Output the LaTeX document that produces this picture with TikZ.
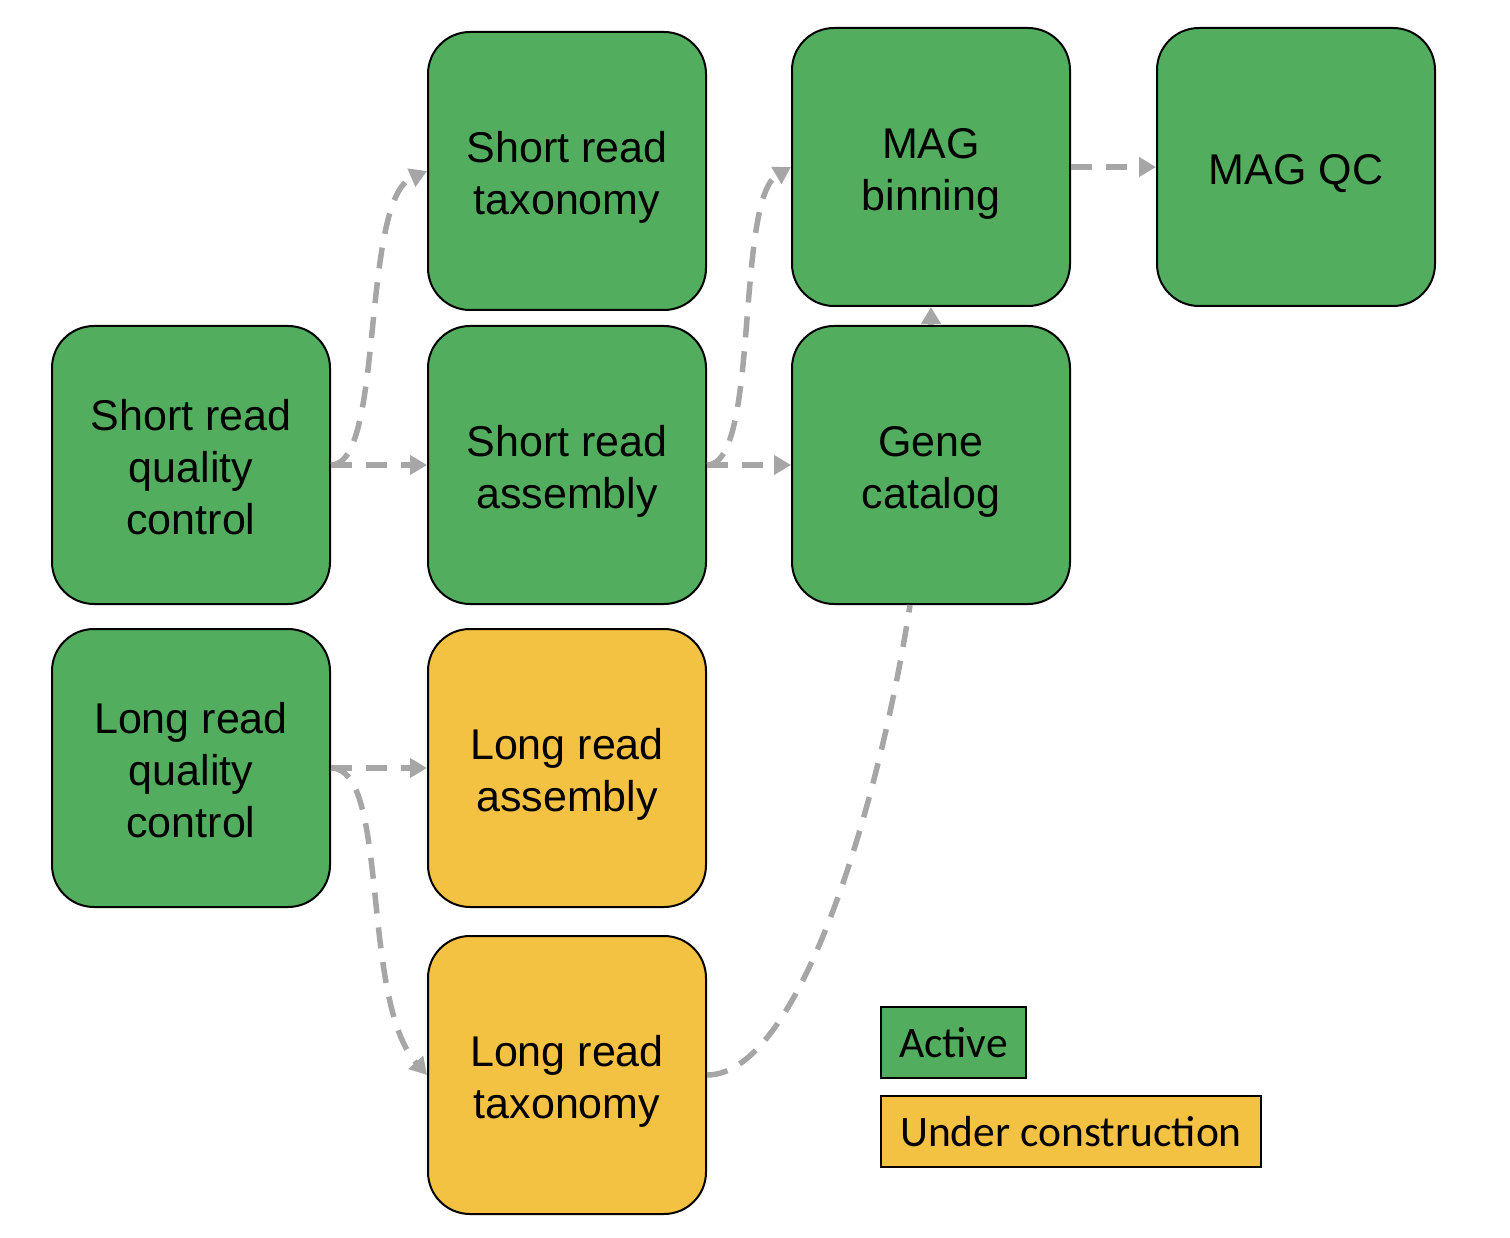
\documentclass[tikz,border=0pt]{standalone}
\usepackage{fontspec}
\setmainfont{Liberation Sans}
\newfontfamily\legfont{Carlito}
\usetikzlibrary{arrows.meta}
\definecolor{actgreen}{HTML}{52AE5E}
\definecolor{uncyellow}{HTML}{F4C242}
\definecolor{conngray}{HTML}{A6A6A6}
\newcommand{\boxtext}[1]{\raisebox{-7pt}[\height][\depth]{\begin{tabular}{@{}c@{}}#1\end{tabular}}}
\begin{document}
\begin{tikzpicture}[x=1pt,y=-1pt,
  stepbox/.style={draw=black, line width=2pt, rounded corners=42pt, minimum width=278pt, minimum height=278pt, inner sep=0pt, font=\fontsize{43}{52}\selectfont, text=black},
  active/.style={stepbox, fill=actgreen},
  uncon/.style={stepbox, fill=uncyellow},
  legbox/.style={draw=black, line width=2pt, minimum height=71pt, inner sep=0pt, font=\legfont\fontsize{43.5}{48}\selectfont, anchor=north west},
  conn/.style={draw=conngray, line width=5.5pt, dash pattern=on 21pt off 14pt},
  arr/.style={conn, -{Triangle[length=17pt,width=19pt]}}
]
\useasboundingbox (0,0) rectangle (1510,1238);
\node[active] (srqc) at (191,465) {\boxtext{Short read\\quality\\control}};
\node[active] (srt) at (567,171) {\boxtext{Short read\\taxonomy}};
\node[active] (sra) at (567,465) {\boxtext{Short read\\assembly}};
\node[active] (magb) at (931,167) {\boxtext{MAG\\binning}};
\node[active] (magqc) at (1296,167) {\boxtext{MAG QC}};
\node[active] (gc) at (931,465) {\boxtext{Gene\\catalog}};
\node[active] (lrqc) at (191,768) {\boxtext{Long read\\quality\\control}};
\node[uncon] (lra) at (567,768) {\boxtext{Long read\\assembly}};
\node[uncon] (lrt) at (567,1075) {\boxtext{Long read\\taxonomy}};

\node[legbox, fill=actgreen, minimum width=145pt] (lact) at (880,1006) {Active};
\node[legbox, fill=uncyellow, minimum width=380pt] (lunc) at (880,1095) {Under construction};

\draw[arr] (srqc.east) -- (sra.west);
\draw[arr] (srqc.east) .. controls (385,465) and (360,200) .. (srt.west);
\draw[arr] (sra.east) -- (gc.west);
\draw[arr] (sra.east) .. controls (760,465) and (735,200) .. (magb.west);
\draw[arr] (magb.east) -- (magqc.west);
\draw[arr] (gc.north) -- (magb.south);
\draw[arr] (lrqc.east) -- (lra.west);
\draw[arr] (lrqc.east) .. controls (390,768) and (360,1000) .. (lrt.west);
\draw[conn] (lrt.east) .. controls (800,1075) and (880,800) .. ([xshift=-21pt]gc.south);
\end{tikzpicture}
\end{document}
